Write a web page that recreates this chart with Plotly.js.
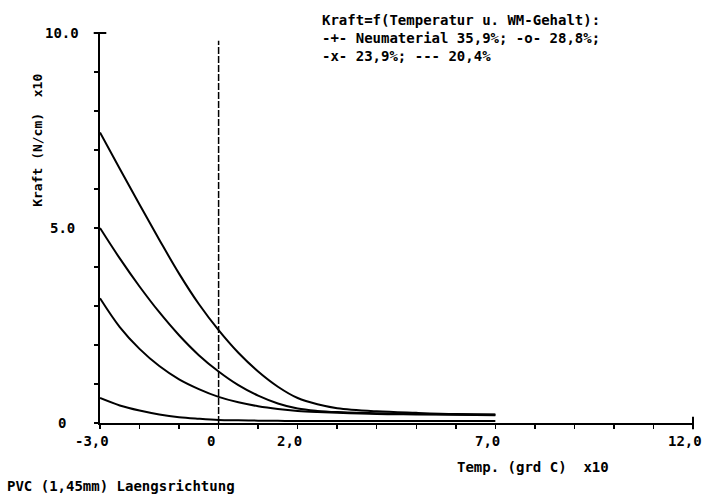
<!DOCTYPE html>
<html><head><meta charset="utf-8">
<script src="https://cdn.plot.ly/plotly-3.0.1.min.js"></script>
<style>html,body{margin:0;padding:0;background:#fff}</style>
</head><body><div id="chart" style="width:705px;height:501px"></div>
<script>
// Temperature (grd C x10)
const temps = [-3, -2.5, -2, -1.5, -1, -0.5, 0, 0.5, 1, 1.5, 2, 2.5, 3, 4, 5, 6, 7];
// Kraft (N/cm x10)
const neumaterial359 = [7.45, 6.52, 5.6, 4.7, 3.83, 3.05, 2.38, 1.8, 1.32, 0.93, 0.64, 0.48, 0.38, 0.3, 0.26, 0.23, 0.22];
const wm288 = [5.0, 4.22, 3.5, 2.84, 2.25, 1.74, 1.32, 0.97, 0.7, 0.5, 0.37, 0.31, 0.28, 0.25, 0.23, 0.22, 0.21];
const wm239 = [3.2, 2.46, 1.9, 1.46, 1.12, 0.87, 0.67, 0.53, 0.43, 0.36, 0.31, 0.28, 0.26, 0.23, 0.22, 0.21, 0.2];
const wm204 = [0.64, 0.45, 0.32, 0.22, 0.15, 0.11, 0.08, 0.07, 0.06, 0.055, 0.05, 0.05, 0.05, 0.05, 0.05, 0.05, 0.05];

const xRange = [-3, 12];
const yRange = [0, 10];
const xTickVals = [-3, 0, 2, 7, 12];
const xTickText = ['-3,0', '0', '2,0', '7,0', '12,0'];
const yTickVals = [0, 5, 10];
const yTickText = ['0', '5.0', '10.0'];
const refLineX = [0, 0];
const refLineY = [0, 9.8];
const titleLines = ['Kraft=f(Temperatur u. WM-Gehalt):', '-+- Neumaterial 35,9%; -o- 28,8%;', '-x- 23,9%; --- 20,4%'];
const yTitle = 'Kraft (N/cm)  x10';
const xTitle = 'Temp. (grd C)  x10';
const note = 'PVC (1,45mm) Laengsrichtung';

const FONT = {family: 'DejaVu Sans Mono, monospace', size: 14, color: '#000', weight: 'bold'};
const curveLine = {color: '#000', width: 2, shape: 'spline', smoothing: 1};

const traces = [
  {x: temps, y: neumaterial359, mode: 'lines', line: curveLine, name: 'Neumaterial 35,9%'},
  {x: temps, y: wm288, mode: 'lines', line: curveLine, name: '28,8%'},
  {x: temps, y: wm239, mode: 'lines', line: curveLine, name: '23,9%'},
  {x: temps, y: wm204, mode: 'lines', line: curveLine, name: '20,4%'},
  {x: refLineX, y: refLineY, mode: 'lines', line: {color: '#000', width: 1.5, dash: '7px,2px'}},
  {x: [xRange[0]], y: [yRange[1]], mode: 'markers', cliponaxis: false,
   marker: {symbol: 'line-ew', size: 9, line: {color: '#000', width: 2}}},
  {x: [xRange[1]], y: [yRange[0]], mode: 'markers', cliponaxis: false,
   marker: {symbol: 'line-ns', size: 9, line: {color: '#000', width: 2}}}
];

const annotations = [];
xTickVals.forEach((v, i) => annotations.push({
  x: v, xref: 'x', y: -0.046, yref: 'paper', text: xTickText[i], showarrow: false,
  xanchor: 'center', yanchor: 'middle', xshift: -8, font: FONT
}));
yTickVals.forEach((v, i) => annotations.push({
  x: -0.064, xref: 'paper', y: v, yref: 'y', text: yTickText[i], showarrow: false,
  xanchor: 'center', yanchor: 'middle', font: FONT
}));
annotations.push({x: 0.371, xref: 'paper', y: 1.059, yref: 'paper', xanchor: 'left', yanchor: 'top',
  align: 'left', showarrow: false, text: titleLines.join('<br>'), font: FONT});
annotations.push({x: -0.1046, xref: 'paper', y: 0.726, yref: 'paper', textangle: -90, showarrow: false,
  xanchor: 'center', yanchor: 'middle', text: yTitle, font: Object.assign({}, FONT, {size: 13})});
annotations.push({x: 0.73, xref: 'paper', y: -0.113, yref: 'paper', showarrow: false,
  xanchor: 'center', yanchor: 'middle', text: xTitle, font: FONT});
annotations.push({x: -0.16, xref: 'paper', y: -0.1615, yref: 'paper', showarrow: false,
  xanchor: 'left', yanchor: 'middle', text: note, font: FONT});

const axisCommon = {showgrid: false, zeroline: false, showline: true, linecolor: '#000', linewidth: 2,
  ticks: 'outside', ticklen: 4, tickwidth: 1.5, tickcolor: '#000', showticklabels: false,
  minor: {ticks: 'outside', ticklen: 4, tickwidth: 1.5, tickcolor: '#000', dtick: 1, tick0: 0, showgrid: false}};

const layout = {
  width: 705, height: 501,
  margin: {l: 100, r: 12, t: 33, b: 78},
  paper_bgcolor: '#fff', plot_bgcolor: '#fff',
  showlegend: false,
  font: FONT,
  xaxis: Object.assign({range: xRange, tickmode: 'array', tickvals: xTickVals}, axisCommon),
  yaxis: Object.assign({range: yRange, tickmode: 'array', tickvals: yTickVals}, axisCommon),
  annotations: annotations
};

Plotly.newPlot('chart', traces, layout, {staticPlot: true, displayModeBar: false});
</script></body></html>
